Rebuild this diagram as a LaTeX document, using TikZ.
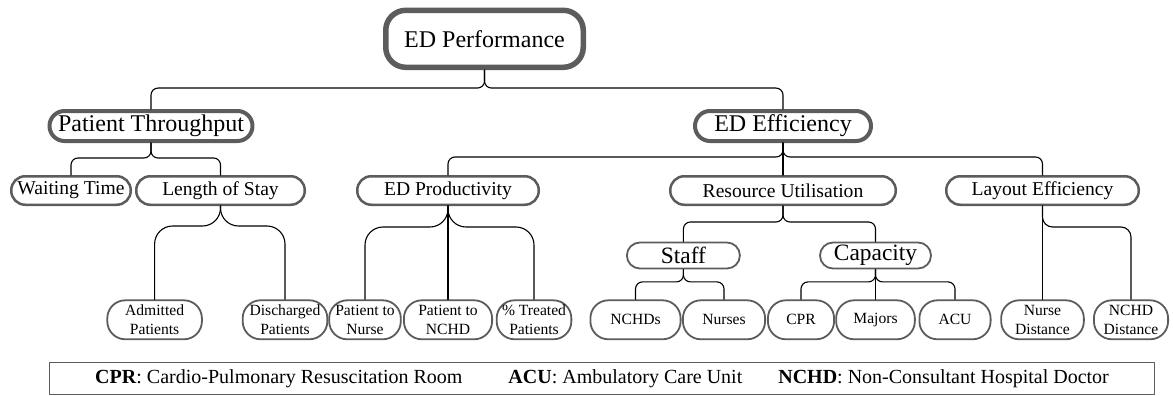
\documentclass[tikz,border=0pt]{standalone}
\usepackage{fontspec}
\setmainfont{LiberationSerif}[Extension=.ttf,UprightFont=*-Regular,BoldFont=*-Bold,ItalicFont=*-Italic,BoldItalicFont=*-BoldItalic]
\definecolor{boxgray}{RGB}{92,92,92}
\begin{document}
\begin{tikzpicture}[x=1pt,y=-1pt,line join=round,line cap=round]
  \tikzset{box/.style={draw=boxgray,fill=white,inner sep=0pt,align=center},
    top style/.style={box,line width=5.5pt,rounded corners=20pt,minimum width=197.5pt,minimum height=57pt,font=\fontsize{24}{28}\selectfont},
    main style/.style={box,line width=4pt,rounded corners=15pt,minimum height=30pt,font=\fontsize{24}{28}\selectfont},
    sub style/.style={box,line width=2.5pt,rounded corners=14pt,minimum height=28.5pt,font=\fontsize{19.6}{23}\selectfont},
    group style/.style={box,line width=1.8pt,rounded corners=13pt,minimum height=26pt,font=\fontsize{23.4}{27}\selectfont},
    leaf style/.style={box,line width=1.8pt,rounded corners=18pt,minimum height=39pt,font=\fontsize{15.6}{18.5}\selectfont},
    link/.style={line width=1.1pt}}
  \useasboundingbox (0,0) rectangle (1173,396);
  % tree nodes
  \node[top style] (perf) at (484.5,38.8) {ED Performance};
  \node[main style,minimum width=203pt] (through) at (151,126) {Patient Throughput};
  \node[main style,minimum width=176pt] (eff) at (783,126) {ED Efficiency};
  \node[sub style,minimum width=119.5pt] (wait) at (71,190.5) {Waiting Time};
  \node[sub style,minimum width=168.5pt] (stay) at (220.5,190.5) {Length of Stay};
  \node[sub style,minimum width=181.5pt] (prod) at (448,190.5) {ED Productivity};
  \node[sub style,minimum width=225.5pt] (util) at (783,190.5) {Resource Utilisation};
  \node[sub style,minimum width=192.5pt] (layout) at (1042.5,190.5) {Layout Efficiency};
  \node[group style,minimum width=113pt] (staff) at (683.4,255.5) {Staff};
  \node[group style,minimum width=111pt] (cap) at (875.5,255.5) {Capacity};
  % leaves
  \node[leaf style,minimum width=94.6pt] (admit) at (154.6,319.8) {Admitted\\Patients};
  \node[leaf style,minimum width=84.7pt] (disch) at (285,319.8) {Discharged\\Patients};
  \node[leaf style,minimum width=71.6pt] (ptnurse) at (365,319.8) {Patient to\\Nurse};
  \node[leaf style,minimum width=88.2pt] (ptnchd) at (448,319.8) {Patient to\\NCHD};
  \node[leaf style,minimum width=74.7pt] (treated) at (534,319.8) {\% Treated\\Patients};
  \node[leaf style,minimum width=90.2pt] (nchds) at (635.5,319.8) {NCHDs};
  \node[leaf style,minimum width=82.2pt] (nurses) at (724,319.8) {Nurses};
  \node[leaf style,minimum width=66.2pt] (cpr) at (801,319.8) {CPR};
  \node[leaf style,minimum width=78.7pt] (majors) at (875.5,319.8) {Majors};
  \node[leaf style,minimum width=71.2pt] (acu) at (955,319.8) {ACU};
  \node[leaf style,minimum width=82.7pt] (nursedist) at (1042.5,319.8) {Nurse\\Distance};
  \node[leaf style,minimum width=74.2pt] (nchddist) at (1131,319.8) {NCHD\\Distance};
  % legend
  \node[draw=boxgray,line width=1.2pt,minimum width=1104.8pt,minimum height=31.8pt,inner sep=0pt,font=\fontsize{20}{24}\selectfont] (legend) at (602,378.5)
    {\textbf{CPR}: Cardio-Pulmonary Resuscitation Room\hspace{46pt}\textbf{ACU}: Ambulatory Care Unit\hspace{36pt}\textbf{NCHD}: Non-Consultant Hospital Doctor};
  % junctions
  \coordinate (j0) at ([yshift=-18pt]perf.south);
  \coordinate (j1) at ([yshift=-15pt]through.south);
  \coordinate (j2) at ([yshift=-14pt]eff.south);
  \coordinate (j3) at ([yshift=-20pt]stay.south);
  \coordinate (j4) at ([yshift=-21pt]prod.south);
  \coordinate (j5) at ([yshift=-16pt]util.south);
  \coordinate (j6) at ([yshift=-21pt]layout.south);
  \coordinate (j7) at ([yshift=-12.5pt]staff.south);
  \coordinate (j8) at ([yshift=-12.5pt]cap.south);
  % connectors
  \draw[link,rounded corners=7pt] (through.north) |- (j0) -- (perf.south);
  \draw[link,rounded corners=7pt] (eff.north) |- (j0) -- (perf.south);
  \draw[link,rounded corners=7pt] (wait.north) |- (j1) -- (through.south);
  \draw[link,rounded corners=7pt] (stay.north) |- (j1) -- (through.south);
  \draw[link,rounded corners=7pt] (prod.north) |- (j2) -- (eff.south);
  \draw[link,rounded corners=7pt] (layout.north) |- (j2) -- (eff.south);
  \draw[link] (eff.south) -- (util.north);
  \draw[link,rounded corners=18pt] (admit.north) |- (j3) [rounded corners=8pt] -- (stay.south);
  \draw[link,rounded corners=18pt] (disch.north) |- (j3) [rounded corners=8pt] -- (stay.south);
  \draw[link,rounded corners=18pt] (ptnurse.north) |- (j4) [rounded corners=8pt] -- (prod.south);
  \draw[link,rounded corners=18pt] (treated.north) |- (j4) [rounded corners=8pt] -- (prod.south);
  \draw[link] (prod.south) -- (ptnchd.north);
  \draw[link,rounded corners=7pt] (staff.north) |- (j5) -- (util.south);
  \draw[link,rounded corners=7pt] (cap.north) |- (j5) -- (util.south);
  \draw[link,rounded corners=10pt] (nchddist.north) |- (j6) -- (layout.south);
  \draw[link] (layout.south) -- (nursedist.north);
  \draw[link,rounded corners=7pt] (nchds.north) |- (j7) -- (staff.south);
  \draw[link,rounded corners=7pt] (nurses.north) |- (j7) -- (staff.south);
  \draw[link,rounded corners=7pt] (cpr.north) |- (j8) -- (cap.south);
  \draw[link,rounded corners=7pt] (acu.north) |- (j8) -- (cap.south);
  \draw[link] (cap.south) -- (majors.north);
\end{tikzpicture}
\end{document}
